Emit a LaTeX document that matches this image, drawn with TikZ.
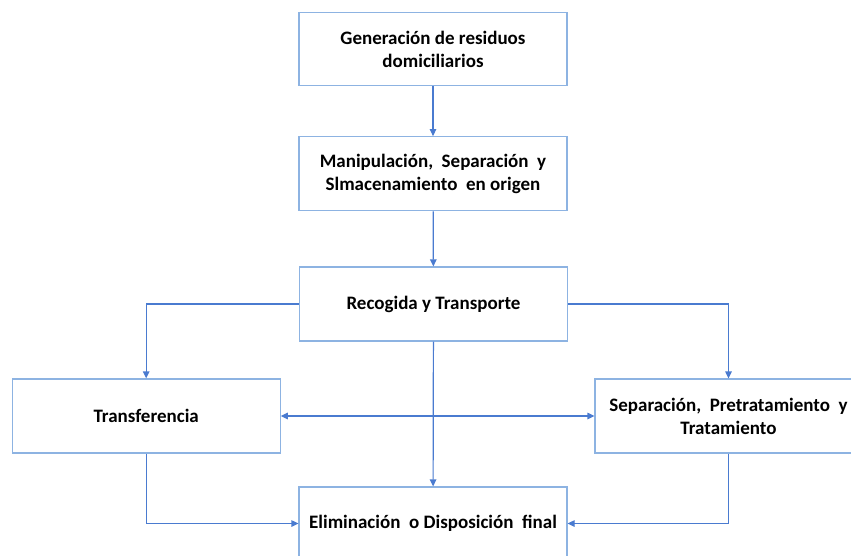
\documentclass[tikz,border=0pt]{standalone}
\usepackage{fontspec}
\setmainfont{Carlito}
\usetikzlibrary{arrows.meta}
\definecolor{boxline}{HTML}{8DB3E2}
\definecolor{flowline}{HTML}{4A7BD0}
\tikzset{
  stepbox/.style={draw=boxline, line width=1.2pt, fill=white, align=center,
    minimum width=268pt, minimum height=74pt, inner sep=2pt,
    font=\fontsize{19}{23}\selectfont\bfseries},
  flow/.style={draw=flowline, line width=1.2pt, -{Triangle[length=7pt,width=6.5pt]}},
  flowboth/.style={draw=flowline, line width=1.2pt,
    {Triangle[length=7pt,width=6.5pt]}-{Triangle[length=7pt,width=6.5pt]}}
}
\begin{document}
\begin{tikzpicture}[x=1pt,y=-1pt]
  \useasboundingbox (0,0) rectangle (851,555);
  \clip (0,0) rectangle (851,555);
  \fill[white] (0,0) rectangle (851,555);

  % process boxes
  \node[stepbox, minimum height=73pt] (gen) at (433,49.3) {Generación de residuos\\domiciliarios};
  \node[stepbox] (man) at (433,173.7) {Manipulación,\ \ Separación\ \ y\\Slmacenamiento\ \ en origen};
  \node[stepbox] (rec) at (433.5,304) {Recogida y Transporte};
  \node[stepbox] (tra) at (146.2,416) {Transferencia};
  \node[stepbox, minimum width=267pt] (sep) at (728.5,416) {Separación,\ \ Pretratamiento\ \ y\\Tratamiento};
  \node[stepbox, minimum height=73pt] (eli) at (433,523.5) {Eliminación\ \ o Disposición\ \ final};

  % main flow
  \draw[flow] (gen) -- (man);
  \draw[flow] (man) -- (rec);
  \draw[flow] (rec) -- (eli);
  \draw[flow] (rec.west) -| (tra.north);
  \draw[flow] (rec.east) -| (sep.north);
  \draw[flowboth] (tra.east) -- (sep.west);
  \draw[flow] (tra.south) |- (eli.west);
  \draw[flow] (sep.south) |- (eli.east);
\end{tikzpicture}
\end{document}
